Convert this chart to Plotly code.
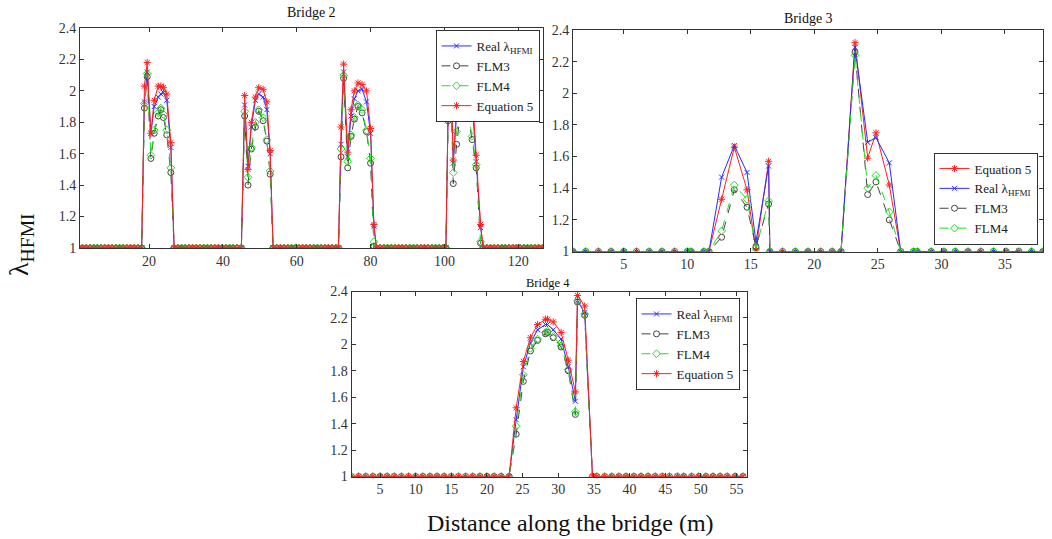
import plotly.graph_objects as go

BASE = 1.0

# ---------------- Bridge 2 ----------------
b2_flat_x = [1, 2, 3, 4, 5, 6, 7, 8, 9, 10, 11, 12, 13, 14, 15, 16, 17, 18,
             26.8, 27.8, 28.8, 29.8, 30.8, 31.8, 32.8, 33.8, 34.8, 35.8, 36.8, 37.8, 38.8, 39.8, 40.8, 41.8, 42.8, 43.8, 45.0,
             53.6, 54.6, 55.6, 56.6, 57.6, 58.6, 59.6, 60.6, 61.6, 62.6, 63.6, 64.6, 65.6, 66.6, 67.6, 68.6, 69.6, 70.6, 71.3,
             81.6, 82.6, 83.6, 84.6, 85.6, 86.6, 87.6, 88.6, 89.6, 90.6, 91.6, 92.6, 93.6, 94.6, 95.6, 96.6, 97.6, 98.6, 99.6, 100.4,
             110.5, 111.5, 112.5, 113.5, 114.5, 115.5, 116.5, 117.5, 118.5, 119.5, 120.5, 121.5, 122.5, 123.5, 124.5, 125.5, 126.6]
b2_peak_x = [18.75, 19.5, 20.5, 21.4, 22.5, 23.2, 23.9, 24.8, 25.9,
             45.9, 46.8, 47.7, 48.8, 49.7, 50.9, 51.9, 52.8,
             72.0, 72.7, 73.8, 74.7, 75.6, 76.6, 77.7, 78.9, 80.0, 80.9,
             101.0, 101.7, 102.4, 103.3, 104.2, 105.3, 106.4, 107.5, 108.6, 109.8]
b2_real = [1.93, 2.12, 1.73, 1.90, 1.96, 1.98, 1.99, 1.94, 1.64,
           1.91, 1.52, 1.77, 1.94, 1.98, 1.96, 1.88, 1.60,
           1.66, 2.12, 1.58, 1.84, 1.95, 2.00, 2.01, 1.93, 1.73, 1.14,
           1.85, 2.12, 1.54, 1.85, 1.95, 2.00, 2.00, 1.93, 1.55, 1.13]
b2_flm3 = [1.89, 2.09, 1.57, 1.73, 1.84, 1.88, 1.83, 1.72, 1.48,
           1.84, 1.40, 1.63, 1.77, 1.87, 1.81, 1.68, 1.47,
           1.58, 2.08, 1.51, 1.71, 1.82, 1.90, 1.86, 1.74, 1.54, 1.01,
           1.81, 2.07, 1.41, 1.66, 1.83, 1.90, 1.84, 1.69, 1.51, 1.03]
b2_flm4 = [1.92, 2.11, 1.59, 1.75, 1.86, 1.89, 1.85, 1.75, 1.51,
           1.87, 1.45, 1.64, 1.80, 1.88, 1.83, 1.69, 1.49,
           1.63, 2.10, 1.55, 1.72, 1.83, 1.91, 1.88, 1.75, 1.57, 1.04,
           1.83, 2.09, 1.48, 1.74, 1.84, 1.91, 1.86, 1.71, 1.53, 1.04]
b2_eq5 = [2.03, 2.18, 1.73, 1.94, 2.03, 2.03, 2.02, 1.98, 1.67,
          1.97, 1.50, 1.80, 1.96, 2.02, 2.01, 1.93, 1.62,
          1.77, 2.17, 1.61, 1.88, 2.00, 2.05, 2.04, 2.00, 1.76, 1.15,
          1.90, 2.17, 1.56, 1.89, 2.00, 2.05, 2.04, 2.00, 1.59, 1.15]

# ---------------- Bridge 3 ----------------
b3_flat_x = [1, 2, 3, 4, 5, 6, 7, 8, 9, 10, 10.3, 11.3, 11.7,
             16.5, 17.5, 18.5, 19.5, 20.5, 21.4, 22.1,
             26.8, 27.8, 28.1, 29.2, 30.2, 31.1, 32.1, 33.1, 34.1, 35.1, 36.1, 37.1, 38.0]
b3_peak_x = [12.7, 13.7, 14.7, 15.4, 16.4, 23.2, 24.2, 24.85, 25.9]
b3_real = [1.47, 1.67, 1.50, 1.06, 1.54, 2.29, 1.69, 1.72, 1.56]
b3_flm3 = [1.09, 1.39, 1.28, 1.03, 1.30, 2.26, 1.36, 1.44, 1.20]
b3_flm4 = [1.13, 1.42, 1.33, 1.02, 1.32, 2.24, 1.40, 1.48, 1.25]
b3_eq5 = [1.33, 1.66, 1.39, 1.01, 1.57, 2.32, 1.59, 1.75, 1.42]

# ---------------- Bridge 4 ----------------
b4_flat_x = [1, 2, 3, 4, 5, 6, 7, 8, 9, 10, 11, 12, 13, 14, 15, 16, 17, 18, 19, 20, 21, 22, 23.1,
             34.8, 35.4, 36.5, 37.5, 38.5, 39.5, 40.6, 41.6, 42.6, 43.6, 44.6, 45.6, 46.7, 47.6,
             48.7, 49.7, 50.7, 51.7, 52.7, 53.7, 54.8, 55.9]
b4_peak_x = [24.1, 25.1, 26.1, 27.1, 28.2, 28.5, 29.3, 30.4, 31.4, 32.4, 32.7, 33.7]
b4_real = [1.43, 1.83, 2.01, 2.11, 2.15, 2.15, 2.11, 2.04, 1.83, 1.57, 2.33, 2.24]
b4_flm3 = [1.32, 1.72, 1.95, 2.03, 2.08, 2.09, 2.05, 1.98, 1.80, 1.47, 2.32, 2.22]
b4_flm4 = [1.38, 1.77, 1.97, 2.04, 2.09, 2.10, 2.06, 1.99, 1.81, 1.49, 2.33, 2.23]
b4_eq5 = [1.52, 1.87, 2.05, 2.15, 2.19, 2.19, 2.17, 2.09, 1.88, 1.64, 2.37, 2.29]

y_ticks = [1, 1.2, 1.4, 1.6, 1.8, 2, 2.2, 2.4]
b2_xticks = [20, 40, 60, 80, 100, 120]
b3_xticks = [5, 10, 15, 20, 25, 30, 35]
b4_xticks = [5, 10, 15, 20, 25, 30, 35, 40, 45, 50, 55]

BLUE, GRAY, GREEN, RED = "#2b2bff", "#444444", "#22dd22", "#ff2020"
STYLE = {
    "real": ("Real λ<sub>HFMI</sub>", BLUE, "solid", "x-thin-open", 5),
    "flm3": ("FLM3", GRAY, "dash", "circle-open", 6),
    "flm4": ("FLM4", GREEN, "dash", "diamond-open", 6),
    "eq5": ("Equation 5", RED, "solid", "asterisk-open", 6),
}


def merged(flat_x, peak_x, peak_vals):
    pts = [(x, BASE) for x in flat_x] + list(zip(peak_x, peak_vals))
    pts.sort(key=lambda p: p[0])
    return [p[0] for p in pts], [p[1] for p in pts]


bridges = [
    dict(flat=b2_flat_x, peak=b2_peak_x, real=b2_real, flm3=b2_flm3, flm4=b2_flm4, eq5=b2_eq5,
         xa="x", ya="y", legend="legend", order=["real", "flm3", "flm4", "eq5"]),
    dict(flat=b3_flat_x, peak=b3_peak_x, real=b3_real, flm3=b3_flm3, flm4=b3_flm4, eq5=b3_eq5,
         xa="x2", ya="y2", legend="legend2", order=["eq5", "real", "flm3", "flm4"]),
    dict(flat=b4_flat_x, peak=b4_peak_x, real=b4_real, flm3=b4_flm3, flm4=b4_flm4, eq5=b4_eq5,
         xa="x3", ya="y3", legend="legend3", order=["real", "flm3", "flm4", "eq5"]),
]

fig = go.Figure()
for b in bridges:
    for key in b["order"]:
        name, color, dash, symbol, size = STYLE[key]
        xs, ys = merged(b["flat"], b["peak"], b[key])
        fig.add_trace(go.Scatter(
            x=xs, y=ys, mode="lines+markers", name=name,
            line=dict(color=color, width=1, dash=dash),
            marker=dict(symbol=symbol, size=size, color=color, line=dict(width=1, color=color)),
            xaxis=b["xa"], yaxis=b["ya"], legend=b["legend"],
            showlegend=True, hoverinfo="skip"))

FONT = "Liberation Serif, Times New Roman, serif"
W, H = 1052, 539


def px_x(p):
    return p / W


def px_y(p):
    return 1 - p / H


axis_common = dict(showline=True, linecolor="#333333", linewidth=1, mirror="ticks",
                   ticks="inside", ticklen=4, tickcolor="#333333", showgrid=False,
                   zeroline=False, automargin=False,
                   tickfont=dict(family=FONT, size=14, color="#333333"))

leg_common = dict(xanchor="right", yanchor="top", bgcolor="white", bordercolor="#333333",
                  borderwidth=1, tracegroupgap=0, itemwidth=30)


def ann(text, x, y, size, angle=0):
    return dict(text=text, x=px_x(x), y=px_y(y), xref="paper", yref="paper", showarrow=False,
                xanchor="center", yanchor="middle", textangle=angle,
                font=dict(family=FONT, size=size, color="#111111"))


fig.update_layout(
    width=W, height=H, autosize=False, margin=dict(l=0, r=0, t=0, b=0, autoexpand=False),
    paper_bgcolor="white", plot_bgcolor="white", showlegend=True, hovermode=False,
    xaxis=dict(domain=[px_x(80), px_x(543)], range=[1.3, 126.7], tickvals=b2_xticks, anchor="y", **axis_common),
    yaxis=dict(domain=[px_y(248), px_y(28)], range=[1, 2.4], tickvals=y_ticks, anchor="x", **axis_common),
    xaxis2=dict(domain=[px_x(573), px_x(1043)], range=[1, 38], tickvals=b3_xticks, anchor="y2", **axis_common),
    yaxis2=dict(domain=[px_y(251.5), px_y(30)], range=[1, 2.4], tickvals=y_ticks, anchor="x2", **axis_common),
    xaxis3=dict(domain=[px_x(351.5), px_x(746.5)], range=[1, 56.4], tickvals=b4_xticks, anchor="y3", **axis_common),
    yaxis3=dict(domain=[px_y(476.5), px_y(291.5)], range=[1, 2.4], tickvals=y_ticks, anchor="x3", **axis_common),
    legend=dict(x=px_x(539.5), y=px_y(30), font=dict(family=FONT, size=13, color="#222222"), **leg_common),
    legend2=dict(x=px_x(1037.5), y=px_y(152.5), font=dict(family=FONT, size=13, color="#222222"), **leg_common),
    legend3=dict(x=px_x(739.5), y=px_y(298), font=dict(family=FONT, size=13, color="#222222"), **leg_common),
    annotations=[
        ann("Bridge 2", 311, 13, 14),
        ann("Bridge 3", 808, 18, 14),
        ann("Bridge 4", 548, 283, 12.5),
        ann("λ<sub>HFMI</sub>", 20, 245, 28, -90),
        ann("Distance along the bridge (m)", 570, 523, 24),
    ],
)

fig.write_html("out.html", config={"displayModeBar": False},
               post_script="document.body.style.margin='0';document.body.style.overflow='hidden';")
